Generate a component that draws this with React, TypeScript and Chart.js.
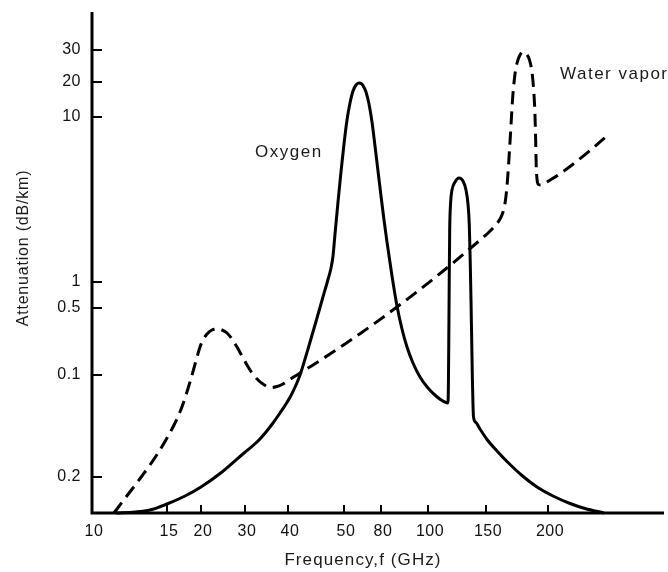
import { useEffect, useRef } from 'react';
import { Chart, registerables } from 'chart.js';

Chart.register(...registerables);

// Printed frequency axis (GHz): labels and their calibration along the axis (axis units)
const xTickLabels = ['10', '15', '20', '30', '40', '50', '80', '100', '150', '200'];
const xTickGHz = [10, 15, 20, 30, 40, 50, 80, 100, 150, 200];
const xTickPos = [0, 75, 109, 153, 196, 252, 289, 336, 394, 456];
const xAxisMax = 572;

// Printed attenuation axis: labels as printed and their level along the axis
const yTickLabels = ['0.2', '0.1', '0.5', '1', '10', '20', '30'];
const yTickPos = [36, 138, 205, 231, 396, 431, 463];
const yAxisMax = 501;

// Oxygen (solid)
const oxygenGHz = [11.39, 12.62, 13.68, 15.0, 17.47, 20.0, 24.27, 29.73, 32.73, 34.53, 36.18, 37.92, 39.47, 40.48, 41.3, 41.96, 42.63, 43.32, 44.72, 45.98, 46.91, 47.48, 47.86, 48.24, 48.82, 49.4, 50.0, 51.94, 53.96, 56.06, 58.24, 60.5, 62.45, 63.65, 66.12, 68.69, 71.36, 74.13, 77.01, 80.0, 81.15, 82.31, 84.29, 86.31, 88.38, 90.51, 93.12, 96.27, 100.0, 105.75, 110.28, 115.01, 115.33, 115.65, 115.97, 116.38, 117.12, 118.27, 120.78, 124.2, 127.72, 130.43, 132.26, 133.47, 134.31, 135.07, 135.73, 136.4, 136.97, 137.45, 139.88, 143.84, 150.7, 157.86, 165.35, 177.27, 190.05, 204.7, 221.5, 237.47, 259.34];
const oxygenLevel = [0, 1, 3, 9, 17, 26, 41, 60, 72, 81, 90, 100, 109, 117.5, 128, 138, 150.5, 164, 191.5, 216, 233.5, 245, 257, 279, 311, 341, 369, 393, 410, 422, 428, 430, 429.2, 427.5, 421, 409, 391, 367, 342, 317, 293, 271, 237, 207, 184, 166, 150, 136, 125, 117, 112.5, 110, 128, 173, 228, 283, 310, 323, 331, 335, 332, 323, 309, 288, 253, 213, 173, 133, 108, 96, 90.5, 84, 73.5, 62, 51.5, 37.5, 26, 17, 9.5, 4.5, 0];

// Water vapor (dashed)
const waterGHz = [11.26, 11.82, 12.48, 13.1, 13.68, 14.29, 15.0, 15.92, 16.74, 17.47, 18.22, 18.85, 19.34, 19.83, 20.37, 21.14, 22.13, 23.18, 24.27, 25.42, 26.61, 27.87, 29.18, 30.4, 31.44, 32.51, 33.84, 35.46, 36.92, 38.43, 40.32, 41.96, 44.54, 47.28, 50.64, 61.27, 74.13, 83.49, 89.66, 96.27, 105.01, 116.63, 129.52, 143.84, 150.7, 155.67, 160.07, 162.31, 164.2, 165.73, 167.28, 168.45, 169.63, 171.21, 173.21, 175.64, 178.09, 181.01, 183.54, 185.68, 186.99, 188.11, 188.81, 189.34, 190.05, 191.37, 193.61, 196.32, 199.07, 209.5, 221.5, 243.05, 264.21];
const waterLevel = [0, 12, 25, 37, 48, 60, 75, 88, 101, 115, 131, 145, 156, 166, 173, 179, 183, 184, 183, 180, 174, 166, 157, 148, 140, 134, 129, 125.4, 126.2, 128.5, 133.5, 140, 149.3, 159, 169, 179.3, 189.9, 200.8, 212, 223.6, 235.4, 247.6, 260.1, 272.9, 279, 286, 294, 301, 313, 333, 363, 388, 413, 435, 450, 458, 461, 459, 453, 441, 425, 403, 376, 348, 334, 328.5, 328, 329, 331, 338, 346.5, 362.5, 378];

const labelNames = ['Oxygen', 'Water vapor'];
const labelGHz = [32.1, 211.5];
const labelLevel = [356, 434];

const xTitle = 'Frequency,f (GHz)';
const yTitle = 'Attenuation (dB/km)';

// map a frequency to the printed axis (log interpolation between printed ticks)
function ghzToPos(f: number): number {
  const n = xTickGHz.length;
  let i = 0;
  if (f >= xTickGHz[n - 1]) i = n - 2;
  else {
    while (i < n - 2 && f > xTickGHz[i + 1]) i++;
  }
  const t0 = xTickGHz[i];
  const t1 = xTickGHz[i + 1];
  const p0 = xTickPos[i];
  const p1 = xTickPos[i + 1];
  return p0 + ((p1 - p0) * Math.log(f / t0)) / Math.log(t1 / t0);
}

const FONT = '"Liberation Sans", Arial, Helvetica, sans-serif';

function setSpacing(ctx: any, v: string) {
  try {
    ctx.letterSpacing = v;
  } catch (e) {
    /* ignore */
  }
}

const printedAxes = {
  id: 'printedAxes',
  afterDatasetsDraw(chart: any) {
    const { ctx, chartArea: a, scales } = chart;
    const x = scales.x;
    const y = scales.y;
    ctx.save();
    ctx.strokeStyle = '#000';
    ctx.lineWidth = 3;
    ctx.lineCap = 'butt';
    ctx.beginPath();
    ctx.moveTo(a.left, a.top);
    ctx.lineTo(a.left, a.bottom);
    ctx.lineTo(a.right, a.bottom);
    ctx.stroke();

    ctx.lineWidth = 2;
    ctx.beginPath();
    yTickPos.forEach((v) => {
      const py = Math.round(y.getPixelForValue(v));
      ctx.moveTo(a.left, py);
      ctx.lineTo(a.left + 10, py);
    });
    xTickPos.forEach((v, i) => {
      if (i === 0) return;
      const px = Math.round(x.getPixelForValue(v));
      ctx.moveTo(px, a.bottom);
      ctx.lineTo(px, a.bottom - 8);
    });
    ctx.stroke();

    ctx.fillStyle = '#111';
    setSpacing(ctx, '0.5px');
    ctx.font = `16px ${FONT}`;
    ctx.textAlign = 'right';
    ctx.textBaseline = 'middle';
    yTickPos.forEach((v, i) => {
      ctx.fillText(yTickLabels[i], a.left - 11, y.getPixelForValue(v));
    });
    ctx.textAlign = 'center';
    xTickPos.forEach((v, i) => {
      ctx.fillText(xTickLabels[i], x.getPixelForValue(v) + 2, a.bottom + 19);
    });

    ctx.fillStyle = '#1a1a1a';
    setSpacing(ctx, '1.1px');
    ctx.font = `17px ${FONT}`;
    ctx.textAlign = 'center';
    ctx.textBaseline = 'middle';
    ctx.fillText(xTitle, 363, a.bottom + 47);
    setSpacing(ctx, '0.8px');
    ctx.font = `16px ${FONT}`;
    ctx.save();
    ctx.translate(24, 248);
    ctx.rotate(-Math.PI / 2);
    ctx.fillText(yTitle, 0, 0);
    ctx.restore();

    setSpacing(ctx, '1.5px');
    ctx.font = `17px ${FONT}`;
    ctx.textAlign = 'left';
    ctx.textBaseline = 'alphabetic';
    labelNames.forEach((t, i) => {
      ctx.fillText(t, x.getPixelForValue(ghzToPos(labelGHz[i])), y.getPixelForValue(labelLevel[i]));
    });
    ctx.restore();
  },
};

export default function App() {
  const ref = useRef<HTMLCanvasElement | null>(null);
  useEffect(() => {
    if (!ref.current) return;
    const chart = new Chart(ref.current, {
      type: 'line',
      data: {
        datasets: [
          {
            label: 'Oxygen',
            data: oxygenGHz.map((f, i) => ({ x: ghzToPos(f), y: oxygenLevel[i] })),
            borderColor: '#000',
            borderWidth: 3,
            pointRadius: 0,
            cubicInterpolationMode: 'monotone',
            fill: false,
            clip: false as any,
          },
          {
            label: 'Water vapor',
            data: waterGHz.map((f, i) => ({ x: ghzToPos(f), y: waterLevel[i] })),
            borderColor: '#000',
            borderWidth: 3,
            borderDash: [13, 7],
            pointRadius: 0,
            cubicInterpolationMode: 'monotone',
            fill: false,
            clip: false as any,
          },
        ],
      },
      options: {
        animation: false,
        responsive: false,
        maintainAspectRatio: false,
        layout: { padding: { left: 92, top: 12, right: 4, bottom: 59 } },
        scales: {
          x: { type: 'linear', min: 0, max: xAxisMax, display: false },
          y: { type: 'linear', min: 0, max: yAxisMax, display: false },
        },
        plugins: { legend: { display: false }, tooltip: { enabled: false } },
        events: [],
      },
      plugins: [printedAxes],
    });
    return () => chart.destroy();
  }, []);
  return (
    <div style={{ position: 'absolute', left: 0, top: 0, width: 668, height: 572, background: '#fff' }}>
      <canvas ref={ref} width={668} height={572} style={{ width: 668, height: 572 }} />
    </div>
  );
}
